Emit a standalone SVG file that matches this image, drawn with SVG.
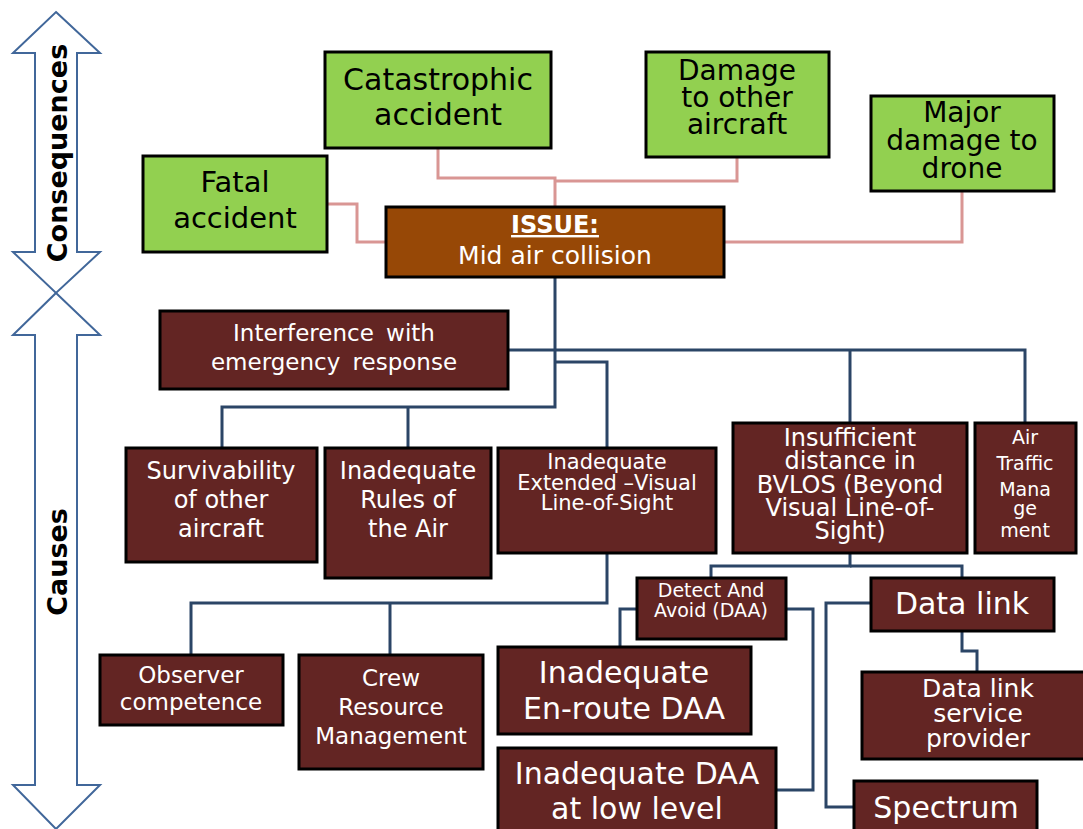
<svg xmlns="http://www.w3.org/2000/svg" width="1083" height="829" viewBox="0 0 1083 829">
<style>
text{font-family:"DejaVu Sans","Liberation Sans",sans-serif;text-anchor:middle}
.g{fill:#92d050;stroke:#000;stroke-width:3}
.r{fill:#632523;stroke:#000;stroke-width:3}
.i{fill:#974806;stroke:#000;stroke-width:3}
.tb{fill:#000}
.tw{fill:#fff}
.pk{fill:none;stroke:#d99694;stroke-width:3}
.bl{fill:none;stroke:#2b4566;stroke-width:3}
.ar{fill:none;stroke:#41679a;stroke-width:2}
</style>
<rect width="1083" height="829" fill="#fff"/>
<g id="side-arrows">
<polygon class="ar" points="56,12 100,53 77,53 77,252 100,252 56,293 13,252 35,252 35,53 13,53"/>
<polygon class="ar" points="56,293 100,335 77,335 77,785 100,785 56,829 13,785 35,785 35,335 13,335"/>
<text transform="translate(67,153) rotate(-90)" font-size="27" font-weight="bold" class="tb">Consequences</text>
<text transform="translate(67,562) rotate(-90)" font-size="27" font-weight="bold" class="tb">Causes</text>
</g>
<g id="connectors">
<polyline class="pk" points="438,148 438,178 555,178 555,207"/>
<polyline class="pk" points="737,157 737,181 555,181"/>
<polyline class="pk" points="327,204 357,204 357,242 386,242"/>
<polyline class="pk" points="962,191 962,242 724,242"/>
<polyline class="bl" points="555,277 555,407 222,407 222,448"/>
<polyline class="bl" points="408,407 408,448"/>
<polyline class="bl" points="508,350 1025,350 1025,423"/>
<polyline class="bl" points="850,350 850,423"/>
<polyline class="bl" points="555,362 607,362 607,448"/>
<polyline class="bl" points="607,553 607,603 191,603 191,655"/>
<polyline class="bl" points="390,603 390,655"/>
<polyline class="bl" points="850,553 850,566 711,566 711,578"/>
<polyline class="bl" points="850,566 962,566 962,578"/>
<polyline class="bl" points="637,609 620,609 620,647"/>
<polyline class="bl" points="786,609 813,609 813,790 777,790"/>
<polyline class="bl" points="962,631 962,651 977,651 977,672"/>
<polyline class="bl" points="871,603 826,603 826,807 854,807"/>
</g>
<g id="catastrophic"><rect class="g" x="325" y="52" width="226" height="96"/>
<text class="tb" font-size="30" x="438" y="90">Catastrophic</text><text class="tb" font-size="30" x="438" y="125">accident</text></g>
<g id="damage-other"><rect class="g" x="646" y="52" width="183" height="105"/>
<text class="tb" font-size="28" x="737" y="80">Damage</text><text class="tb" font-size="28" x="737" y="107">to other</text><text class="tb" font-size="28" x="737" y="134">aircraft</text></g>
<g id="major-damage"><rect class="g" x="871" y="96" width="183" height="95"/>
<text class="tb" font-size="28" x="962" y="122">Major</text><text class="tb" font-size="28" x="962" y="150">damage to</text><text class="tb" font-size="28" x="962" y="178">drone</text></g>
<g id="fatal"><rect class="g" x="143" y="156" width="184" height="96"/>
<text class="tb" font-size="29" x="235" y="192">Fatal</text><text class="tb" font-size="29" x="235" y="228">accident</text></g>
<g id="issue"><rect class="i" x="386" y="207" width="338" height="70"/>
<text class="tw" font-size="24" font-weight="bold" text-decoration="underline" x="555" y="233">ISSUE:</text>
<text class="tw" font-size="25" x="555" y="264">Mid air collision</text></g>
<g id="interference"><rect class="r" x="160" y="311" width="348" height="78"/>
<text class="tw" font-size="23" x="334" y="341" word-spacing="5">Interference with</text><text class="tw" font-size="23" x="334" y="370" word-spacing="5">emergency response</text></g>
<g id="survivability"><rect class="r" x="126" y="448" width="191" height="114"/>
<text class="tw" font-size="24" x="221" y="479">Survivability</text><text class="tw" font-size="24" x="221" y="508">of other</text><text class="tw" font-size="24" x="221" y="537">aircraft</text></g>
<g id="rules"><rect class="r" x="325" y="448" width="166" height="130"/>
<text class="tw" font-size="24" x="408" y="479">Inadequate</text><text class="tw" font-size="24" x="408" y="508">Rules of</text><text class="tw" font-size="24" x="408" y="537">the Air</text></g>
<g id="evlos"><rect class="r" x="498" y="448" width="218" height="105"/>
<text class="tw" font-size="21" x="607" y="469">Inadequate</text><text class="tw" font-size="21" x="607" y="490">Extended –Visual</text><text class="tw" font-size="21" x="607" y="510">Line-of-Sight</text></g>
<g id="bvlos"><rect class="r" x="733" y="423" width="234" height="130"/>
<text class="tw" font-size="24" x="850" y="446">Insufficient</text><text class="tw" font-size="24" x="850" y="469">distance in</text><text class="tw" font-size="24" x="850" y="493">BVLOS (Beyond</text><text class="tw" font-size="24" x="850" y="516">Visual Line-of-</text><text class="tw" font-size="24" x="850" y="539">Sight)</text></g>
<g id="atm"><rect class="r" x="975" y="423" width="101" height="130"/>
<text class="tw" font-size="19" x="1025" y="444">Air</text><text class="tw" font-size="19" x="1025" y="470">Traffic</text><text class="tw" font-size="19" x="1025" y="496">Mana</text><text class="tw" font-size="19" x="1025" y="515">ge</text><text class="tw" font-size="19" x="1025" y="537">ment</text></g>
<g id="observer"><rect class="r" x="100" y="655" width="183" height="70"/>
<text class="tw" font-size="23" x="191" y="683">Observer</text><text class="tw" font-size="23" x="191" y="710">competence</text></g>
<g id="crew"><rect class="r" x="299" y="655" width="184" height="114"/>
<text class="tw" font-size="23" x="391" y="686">Crew</text><text class="tw" font-size="23" x="391" y="715">Resource</text><text class="tw" font-size="23" x="391" y="744">Management</text></g>
<g id="daa"><rect class="r" x="637" y="578" width="149" height="61"/>
<text class="tw" font-size="19" x="711" y="597">Detect And</text><text class="tw" font-size="19" x="711" y="617">Avoid (DAA)</text></g>
<g id="enroute"><rect class="r" x="498" y="647" width="253" height="87"/>
<text class="tw" font-size="30" x="624" y="683">Inadequate</text><text class="tw" font-size="30" x="624" y="719">En-route DAA</text></g>
<g id="lowlevel"><rect class="r" x="498" y="748" width="278" height="90"/>
<text class="tw" font-size="30" x="637" y="784">Inadequate DAA</text><text class="tw" font-size="30" x="637" y="819">at low level</text></g>
<g id="datalink"><rect class="r" x="871" y="578" width="183" height="53"/>
<text class="tw" font-size="30" x="962" y="614">Data link</text></g>
<g id="provider"><rect class="r" x="862" y="672" width="225" height="87"/>
<text class="tw" font-size="25" x="978" y="697">Data link</text><text class="tw" font-size="25" x="978" y="722">service</text><text class="tw" font-size="25" x="978" y="747">provider</text></g>
<g id="spectrum"><rect class="r" x="854" y="781" width="183" height="60"/>
<text class="tw" font-size="30" x="946" y="818">Spectrum</text></g>
</svg>
